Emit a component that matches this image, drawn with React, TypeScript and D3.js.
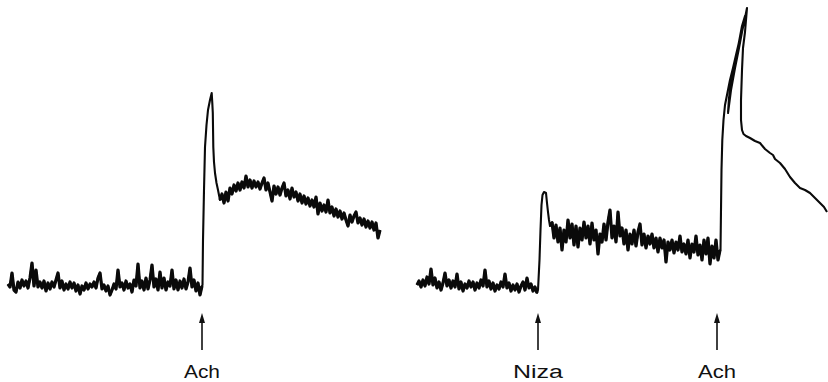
import React from "react";
import * as d3 from "d3";

// Time axis in chart units; tension in chart units (higher = more contraction)
const SAMPLE_STEP = 2;

// Left recording: baseline (noisy), Ach response (transient), plateau (noisy)
const leftBaseStart = 8;
const leftBase = [16, 13, 27, 10, 8, 18, 12, 20, 14, 19, 12, 22, 37, 14, 30, 13, 18, 12, 19, 9, 17, 11, 18, 13, 20, 27, 12, 19, 10, 16, 11, 18, 12, 17, 9, 15, 6, 14, 10, 17, 11, 16, 13, 18, 12, 22, 27, 11, 15, 9, 14, 5, 10, 16, 11, 30, 13, 17, 10, 19, 12, 16, 8, 20, 14, 36, 12, 19, 10, 22, 11, 20, 35, 13, 21, 10, 28, 12, 22, 10, 18, 14, 30, 11, 20, 10, 19, 12, 21, 11, 18, 32, 13, 20, 9, 17, 5, 14];
const leftRise: [number, number][] = [[202.5, 15], [203, 60], [204, 110], [205, 153], [206.5, 175], [208, 190], [210, 200], [211.7, 207], [212.3, 197], [212.8, 187], [213.3, 153], [214, 138], [215, 127], [216.5, 117], [218, 110]];
const leftPlateauStart = 220;
const leftPlateau = [100, 106, 97, 108, 99, 112, 106, 115, 109, 117, 110, 118, 112, 124, 113, 120, 112, 119, 113, 118, 111, 117, 122, 110, 117, 108, 99, 114, 106, 113, 105, 112, 117, 104, 110, 101, 112, 103, 108, 99, 106, 97, 104, 96, 102, 94, 100, 93, 103, 86, 97, 89, 95, 88, 100, 87, 93, 84, 91, 83, 89, 81, 87, 80, 74, 85, 78, 84, 88, 77, 82, 75, 81, 73, 79, 72, 78, 70, 77, 62, 70];

// Right recording: baseline, Niza response, plateau, Ach response
const rightBaseStart = 417;
const rightBase = [15, 19, 13, 20, 14, 23, 16, 31, 15, 22, 12, 18, 10, 17, 27, 14, 20, 12, 19, 13, 26, 11, 18, 9, 16, 12, 19, 13, 18, 10, 17, 12, 20, 14, 30, 13, 19, 11, 17, 9, 15, 11, 18, 13, 26, 12, 17, 9, 15, 10, 16, 8, 14, 18, 10, 22, 12, 16, 9, 13, 7];
const rightRise: [number, number][] = [[538, 10], [539.5, 40], [540.5, 70], [541.5, 95], [542.5, 105], [544, 108], [546, 107], [547, 97], [548, 88], [549, 80], [550, 74]];
const rightPlateauStart = 552;
const rightPlateau = [78, 62, 75, 58, 72, 50, 70, 58, 80, 62, 76, 55, 74, 53, 72, 60, 78, 62, 74, 56, 77, 60, 70, 46, 66, 58, 76, 60, 78, 90, 62, 74, 58, 88, 64, 72, 56, 70, 50, 66, 56, 70, 54, 68, 76, 55, 66, 52, 64, 56, 66, 52, 62, 48, 62, 52, 60, 38, 58, 50, 60, 47, 58, 50, 64, 48, 56, 46, 60, 42, 56, 48, 64, 45, 55, 40, 60, 46, 62, 36, 54, 42, 60, 40, 50];
const rightSpike: [number, number][] = [[720.5, 50], [721, 90], [721.5, 130], [722.3, 160], [723.5, 180], [725, 195], [727, 205], [730, 220], [733, 232], [736, 245], [740, 262], [743, 275], [745, 284], [742, 274], [739, 258], [735, 238], [732, 222], [729, 202], [728, 187], [731, 210], [735, 232], [739, 252], [742, 268], [745, 282], [747, 292], [745, 268], [743, 252], [742, 230], [741, 200], [741, 180], [742, 170], [743.5, 166], [746, 164], [750, 162], [755, 159], [760, 157], [765, 151], [770, 147], [773, 145], [775, 141], [780, 137], [785, 131], [790, 123], [795, 117], [800, 112], [805, 110], [810, 107], [815, 102], [820, 97], [824, 93], [827, 88]];

const markerLabels = ["Ach", "Niza", "Ach"];
const markerTimes = [202, 538, 717];
const markerLabelWidths = [36, 50, 38];

const W = 828;
const H = 382;

function sampled(start: number, values: number[]): [number, number][] {
  return values.map((v, i) => [start + i * SAMPLE_STEP, v]);
}

export default function App() {
  const x = d3.scaleLinear().domain([0, 828]).range([0, W]);
  const y = d3.scaleLinear().domain([0, 300]).range([300, 0]);

  const line = d3
    .line<[number, number]>()
    .x((d) => x(d[0]))
    .y((d) => y(d[1]));

  const noisySegments = [
    sampled(leftBaseStart, leftBase),
    sampled(leftPlateauStart, leftPlateau),
    sampled(rightBaseStart, rightBase),
    sampled(rightPlateauStart, rightPlateau),
  ];

  const leftTrace = [...noisySegments[0], ...leftRise, ...noisySegments[1]];
  const rightTrace = [...noisySegments[2], ...rightRise, ...noisySegments[3], ...rightSpike];

  const arrowTop = 313;
  const arrowBottom = 350;
  const labelBaseline = 378;

  return (
    <svg
      width={W}
      height={H}
      style={{ position: "absolute", left: 0, top: 0, background: "#fff" }}
      xmlns="http://www.w3.org/2000/svg"
    >
      <rect width={W} height={H} fill="#fff" />
      <path d={line(leftTrace) || ""} fill="none" stroke="#0a0a0a" strokeWidth={2.1} strokeLinejoin="round" />
      <path d={line(rightTrace) || ""} fill="none" stroke="#0a0a0a" strokeWidth={2.1} strokeLinejoin="round" />
      {noisySegments.map((seg, i) => (
        <path key={i} d={line(seg) || ""} fill="none" stroke="#0a0a0a" strokeWidth={3.2} strokeLinejoin="round" />
      ))}
      {markerTimes.map((t, i) => {
        const cx = x(t);
        return (
          <g key={i}>
            <line x1={cx} x2={cx} y1={arrowTop + 6} y2={arrowBottom} stroke="#111" strokeWidth={1.6} />
            <path d={`M${cx},${arrowTop} L${cx - 3},${arrowTop + 10} L${cx + 3},${arrowTop + 10} Z`} fill="#111" />
            <text
              x={cx}
              y={labelBaseline}
              textAnchor="middle"
              fontFamily="'Liberation Sans', Arial, Helvetica, sans-serif"
              fontSize={18}
              fill="#111"
              textLength={markerLabelWidths[i]}
              lengthAdjust="spacingAndGlyphs"
            >
              {markerLabels[i]}
            </text>
          </g>
        );
      })}
    </svg>
  );
}
